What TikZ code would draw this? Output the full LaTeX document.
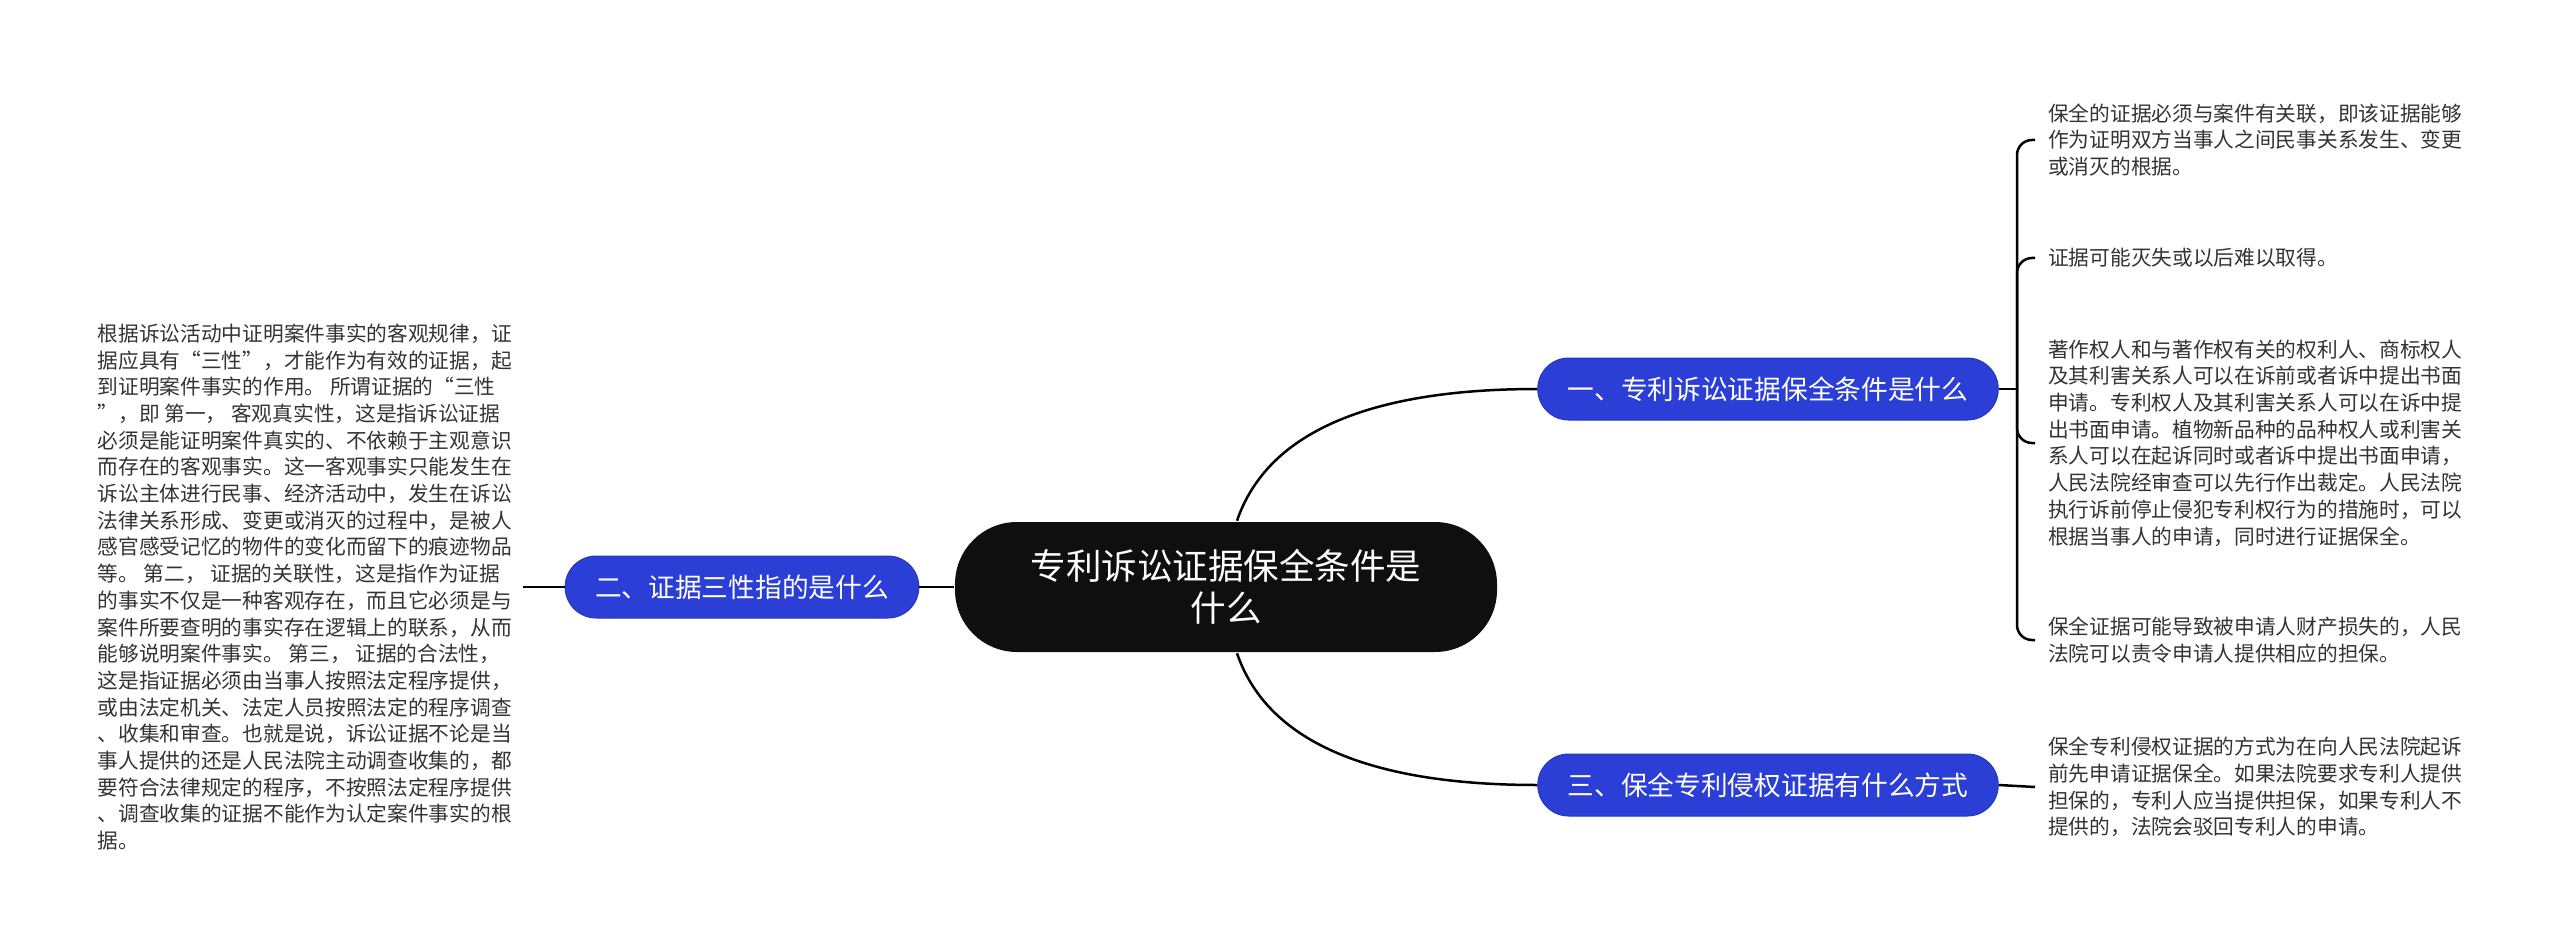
\documentclass[tikz,border=0pt]{standalone}
\usepackage{fontspec}
\setmainfont{Noto Sans CJK SC}
\usetikzlibrary{positioning}
\definecolor{topicblue}{HTML}{2B3FD6}
\definecolor{rootblack}{HTML}{0F0F0F}
\definecolor{leafgray}{HTML}{333333}

\begin{document}
\begin{tikzpicture}[x=1pt,y=-1pt,line width=2.5pt,
    root/.style={fill=rootblack,text=white,rounded corners=62pt,minimum width=542pt,minimum height=130pt,align=center,font=\fontsize{35.5}{42}\selectfont},
    topic/.style={fill=topicblue,draw=topicblue!85!black,line width=1pt,text=white,rounded corners=31pt,inner xsep=30pt,inner ysep=0pt,minimum height=62pt,font=\fontsize{26.7}{30}\selectfont},
    leaf/.style={text=leafgray,align=left,inner xsep=12pt,inner ysep=0pt,font=\fontsize{20.7}{26.7}\selectfont},
    link/.style={draw=black,rounded corners=15pt}]
                \useasboundingbox (0,0) rectangle (2560,952);
                \node[root](Root)at(1226, 587){专利诉讼证据保全条件是\\什么};
                \node[topic](1)at(1768, 389){一、专利诉讼证据保全条件是什么};
                \node[topic](2)at(742, 587){二、证据三性指的是什么};
                \node[topic](3)at(1768, 785){三、保全专利侵权证据有什么方式};
                \coordinate(j1)at(2017, 389);
                \node[leaf,anchor=west](1a)at(2035, 140){保全的证据必须与案件有关联，即该证据能够\\作为证明双方当事人之间民事关系发生、变更\\或消灭的根据。};
                \node[leaf,anchor=west](1b)at(2035, 258){证据可能灭失或以后难以取得。};
                \node[leaf,anchor=west](1c)at(2035, 443){著作权人和与著作权有关的权利人、商标权人\\及其利害关系人可以在诉前或者诉中提出书面\\申请。专利权人及其利害关系人可以在诉中提\\出书面申请。植物新品种的品种权人或利害关\\系人可以在起诉同时或者诉中提出书面申请，\\人民法院经审查可以先行作出裁定。人民法院\\执行诉前停止侵犯专利权行为的措施时，可以\\根据当事人的申请，同时进行证据保全。};
                \node[leaf,anchor=west](1d)at(2035, 640){保全证据可能导致被申请人财产损失的，人民\\法院可以责令申请人提供相应的担保。};
                \node[leaf,anchor=east,inner xsep=10pt](2a)at(523, 587){根据诉讼活动中证明案件事实的客观规律，证\\据应具有“三性”，才能作为有效的证据，起\\到证明案件事实的作用。 所谓证据的“三性\\”，即 第一， 客观真实性，这是指诉讼证据\\必须是能证明案件真实的、不依赖于主观意识\\而存在的客观事实。这一客观事实只能发生在\\诉讼主体进行民事、经济活动中，发生在诉讼\\法律关系形成、变更或消灭的过程中，是被人\\感官感受记忆的物件的变化而留下的痕迹物品\\等。 第二， 证据的关联性，这是指作为证据\\的事实不仅是一种客观存在，而且它必须是与\\案件所要查明的事实存在逻辑上的联系，从而\\能够说明案件事实。 第三， 证据的合法性，\\这是指证据必须由当事人按照法定程序提供，\\或由法定机关、法定人员按照法定的程序调查\\、收集和审查。也就是说，诉讼证据不论是当\\事人提供的还是人民法院主动调查收集的，都\\要符合法律规定的程序，不按照法定程序提供\\、调查收集的证据不能作为认定案件事实的根\\据。};
                \node[leaf,anchor=west](3a)at(2035, 787){保全专利侵权证据的方式为在向人民法院起诉\\前先申请证据保全。如果法院要求专利人提供\\担保的，专利人应当提供担保，如果专利人不\\提供的，法院会驳回专利人的申请。};
                \draw[link]([xshift=11pt]Root.north) .. controls +(28,-82) and +(-180,0) .. (1.west);
                \draw[link]([xshift=11pt]Root.south) .. controls +(28,82) and +(-180,0) .. (3.west);
                \path[link](Root.west) edge (2.east)
                (2.west) edge (2a.east)
                (1.east) edge (j1)
                (3.east) edge (3a.west);
                \draw[link](j1) |- (1a.west);
                \draw[link](j1) |- (1b.west);
                \draw[link](j1) |- (1c.west);
                \draw[link](j1) |- (1d.west);
            \end{tikzpicture}
\end{document}
